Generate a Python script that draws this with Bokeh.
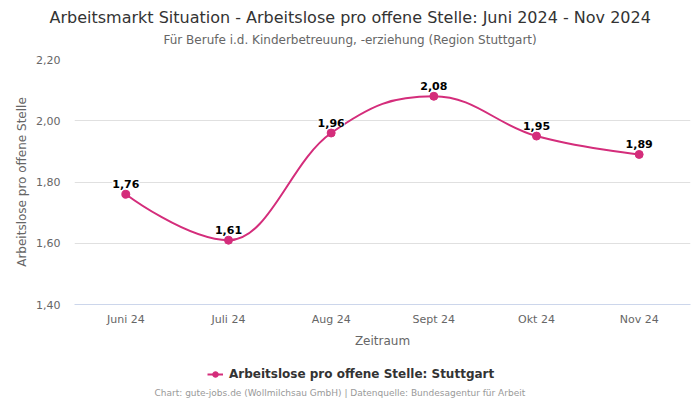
from bokeh.plotting import figure
from bokeh.layouts import column
from bokeh.models import (ColumnDataSource, FixedTicker, CustomJSTickFormatter, LabelSet, Label,
                          Legend, LegendItem, Title, Range1d)
from bokeh.core.properties import value
from bokeh.embed import file_html
from bokeh.resources import INLINE

months = ["Juni 24", "Juli 24", "Aug 24", "Sept 24", "Okt 24", "Nov 24"]
values = [1.76, 1.61, 1.96, 2.08, 1.95, 1.89]
value_labels = ["1,76", "1,61", "1,96", "2,08", "1,95", "1,89"]
y_ticks = [1.4, 1.6, 1.8, 2.0, 2.2]

title_text = "Arbeitsmarkt Situation - Arbeitslose pro offene Stelle: Juni 2024 - Nov 2024"
subtitle_text = "Für Berufe i.d. Kinderbetreuung, -erziehung (Region Stuttgart)"
series_name = "Arbeitslose pro offene Stelle: Stuttgart"
credits_text = "Chart: gute-jobs.de (Wollmilchsau GmbH) | Datenquelle: Bundesagentur für Arbeit"

COLOR = "#d42d7b"
FONT = "DejaVu Sans"

xs = list(range(len(months)))

# Highcharts-style spline control points (smoothing 1.5)
n = len(xs)
left_c = [None] * n
right_c = [None] * n
sm = 1.5
den = sm + 1
for i in range(1, n - 1):
    px, py = xs[i], values[i]
    lx, ly = xs[i - 1], values[i - 1]
    nx, ny = xs[i + 1], values[i + 1]
    lcx = (sm * px + lx) / den
    lcy = (sm * py + ly) / den
    rcx = (sm * px + nx) / den
    rcy = (sm * py + ny) / den
    if rcx != lcx:
        corr = ((rcy - lcy) * (rcx - px)) / (rcx - lcx) + py - rcy
        lcy += corr
        rcy += corr
    if lcy > ly and lcy > py:
        lcy = max(ly, py)
        rcy = 2 * py - lcy
    elif lcy < ly and lcy < py:
        lcy = min(ly, py)
        rcy = 2 * py - lcy
    if rcy > ny and rcy > py:
        rcy = max(ny, py)
        lcy = 2 * py - rcy
    elif rcy < ny and rcy < py:
        rcy = min(ny, py)
        lcy = 2 * py - rcy
    left_c[i] = (lcx, lcy)
    right_c[i] = (rcx, rcy)

bz = dict(x0=[], y0=[], x1=[], y1=[], cx0=[], cy0=[], cx1=[], cy1=[])
for i in range(1, n):
    a = right_c[i - 1] or (xs[i - 1], values[i - 1])
    b = left_c[i] or (xs[i], values[i])
    bz["x0"].append(xs[i - 1]); bz["y0"].append(values[i - 1])
    bz["x1"].append(xs[i]); bz["y1"].append(values[i])
    bz["cx0"].append(a[0]); bz["cy0"].append(a[1])
    bz["cx1"].append(b[0]); bz["cy1"].append(b[1])

src = ColumnDataSource(dict(x=xs, y=values, lab=value_labels))

# ---------------- main chart ----------------
p = figure(width=698, height=350, output_backend="svg", toolbar_location=None,
           x_range=Range1d(-0.5, 5.5), y_range=Range1d(1.4, 2.2),
           min_border_left=74, min_border_right=8, min_border_top=59, min_border_bottom=45)
p.outline_line_color = None
p.background_fill_color = "white"
p.border_fill_color = "white"

p.title.text = title_text
p.title.text_font = FONT
p.title.text_font_size = "16px"
p.title.text_font_style = "normal"
p.title.text_color = "#333333"
p.title.align = "left"
p.title.offset = -25
p.title.standoff = 5
# blank spacer between subtitle and plot area (innermost), then subtitle
p.add_layout(Title(text=".", text_font=FONT, text_font_size="2px", text_color="white",
                   standoff=8), "above")
p.add_layout(Title(text=subtitle_text, text_font=FONT, text_font_size="12px",
                   text_font_style="normal", text_color="#666666", align="left",
                   offset=89, standoff=2), "above")

bez = p.bezier(x0="x0", y0="y0", x1="x1", y1="y1", cx0="cx0", cy0="cy0", cx1="cx1", cy1="cy1",
               source=ColumnDataSource(bz), line_color=COLOR, line_width=2)
sc = p.scatter("x", "y", source=src, size=8, fill_color=COLOR, line_color=COLOR)

labels = LabelSet(x="x", y="y", text="lab", source=src, y_offset=6, text_align="center",
                  text_baseline="bottom", text_font=value(FONT), text_font_size="11px",
                  text_font_style="bold", text_color="black",
                  background_fill_color="white", background_fill_alpha=1.0)
p.add_layout(labels)

p.xaxis.ticker = FixedTicker(ticks=xs)
p.xaxis.major_label_overrides = {i: m for i, m in enumerate(months)}
p.xaxis.axis_label = "Zeitraum"
p.xaxis.axis_line_color = "#ccd6eb"
p.xaxis.major_tick_line_color = None
p.xaxis.minor_tick_line_color = None
p.xaxis.major_tick_out = 0
p.xaxis.major_tick_in = 0
p.xaxis.major_label_text_font = FONT
p.xaxis.major_label_text_font_size = "11px"
p.xaxis.major_label_text_color = "#666666"
p.xaxis.axis_label_text_font = FONT
p.xaxis.axis_label_text_font_size = "12px"
p.xaxis.axis_label_text_font_style = "normal"
p.xaxis.axis_label_text_color = "#666666"
p.xaxis.major_label_standoff = 8
p.xaxis.axis_label_standoff = 5

p.yaxis.ticker = FixedTicker(ticks=y_ticks)
p.yaxis.formatter = CustomJSTickFormatter(code="return tick.toFixed(2).replace('.', ',');")
p.yaxis.axis_label = "Arbeitslose pro offene Stelle"
p.yaxis.axis_line_color = None
p.yaxis.major_tick_line_color = None
p.yaxis.minor_tick_line_color = None
p.yaxis.major_tick_out = 0
p.yaxis.major_tick_in = 0
p.yaxis.major_label_text_font = FONT
p.yaxis.major_label_text_font_size = "11px"
p.yaxis.major_label_text_color = "#666666"
p.yaxis.axis_label_text_font = FONT
p.yaxis.axis_label_text_font_size = "12px"
p.yaxis.axis_label_text_font_style = "normal"
p.yaxis.axis_label_text_color = "#666666"
p.yaxis.major_label_standoff = 14
p.yaxis.axis_label_standoff = 4

p.xgrid.grid_line_color = None
p.ygrid.grid_line_color = "#e0e0e0"

# ---------------- legend + credits strip ----------------
p2 = figure(width=698, height=48, output_backend="svg", toolbar_location=None, title=None,
            x_range=Range1d(0, 1), y_range=Range1d(0, 1),
            x_axis_location=None, y_axis_location=None,
            min_border_left=0, min_border_right=0, min_border_top=0, min_border_bottom=0)
p2.outline_line_color = None
p2.background_fill_color = "white"
p2.border_fill_color = "white"
p2.grid.grid_line_color = None

off = ColumnDataSource(dict(x=[-10, -9], y=[-10, -9]))
leg_line = p2.line("x", "y", source=off, line_color=COLOR, line_width=2)
leg_pt = p2.scatter("x", "y", source=off, size=8, fill_color=COLOR, line_color=COLOR)

legend = Legend(items=[LegendItem(label=series_name, renderers=[leg_line, leg_pt], index=0)],
                orientation="horizontal", location=(133, 17),
                label_text_font=FONT, label_text_font_size="12px",
                label_text_font_style="bold", label_text_color="#333333",
                border_line_color=None, background_fill_alpha=0,
                glyph_width=16, glyph_height=14, label_standoff=6, margin=0, padding=2)
p2.add_layout(legend)
p2.add_layout(Label(x=80, y=6, x_units="screen", y_units="screen", text=credits_text,
                    text_font=FONT, text_font_size="9px", text_color="#999999",
                    text_align="left", text_baseline="middle"))

layout = column(p, p2, spacing=0)
open("out.html", "w").write(file_html(layout, INLINE))
